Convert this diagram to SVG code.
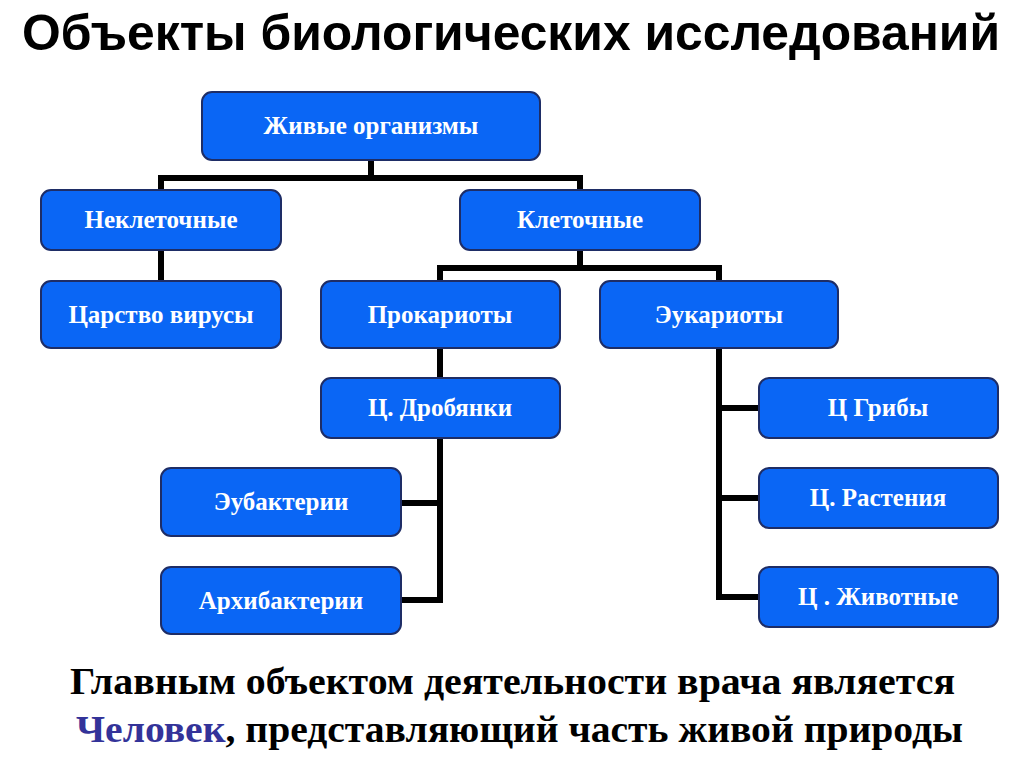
<svg xmlns="http://www.w3.org/2000/svg" width="1024" height="767" viewBox="0 0 1024 767">
<style>
.box{fill:#0A66F5;stroke:#1E2D66;stroke-width:2}
.lbl{font-family:"Liberation Serif","Times New Roman",serif;font-weight:bold;font-size:25px;fill:#ffffff;text-anchor:middle}
.con{fill:none;stroke:#000000;stroke-width:6;stroke-linejoin:miter;stroke-linecap:butt}
.title{font-family:"Liberation Sans",Arial,sans-serif;font-weight:bold;font-size:50px;fill:#000000}
.foot{font-family:"Liberation Serif","Times New Roman",serif;font-weight:bold;font-size:38px;fill:#000000}
</style>
<rect width="1024" height="767" fill="#ffffff"/>
<text class="title" x="22" y="50" textLength="978" lengthAdjust="spacingAndGlyphs">Объекты биологических исследований</text>
<g id="connectors">
<path class="con" d="M371,160 V178"/>
<path class="con" d="M161,190 V178 H580 V190"/>
<path class="con" d="M161,250 V281"/>
<path class="con" d="M580,250 V268"/>
<path class="con" d="M440,281 V268 H719 V281"/>
<path class="con" d="M440,348 V378"/>
<path class="con" d="M440,438 V600 H401"/>
<path class="con" d="M440,503 H401"/>
<path class="con" d="M719,348 V597 H759"/>
<path class="con" d="M719,408 H759"/>
<path class="con" d="M719,498 H759"/>
</g>
<g id="n_live"><rect class="box" x="202" y="92" width="338" height="68" rx="10"/><text class="lbl" x="371" y="134">Живые организмы</text></g>
<g id="n_noncell"><rect class="box" x="41" y="190" width="240" height="60" rx="10"/><text class="lbl" x="161" y="228">Неклеточные</text></g>
<g id="n_cell"><rect class="box" x="460" y="190" width="240" height="60" rx="10"/><text class="lbl" x="580" y="228">Клеточные</text></g>
<g id="n_virus"><rect class="box" x="41" y="281" width="240" height="67" rx="10"/><text class="lbl" x="161" y="323">Царство вирусы</text></g>
<g id="n_prok"><rect class="box" x="321" y="281" width="239" height="67" rx="10"/><text class="lbl" x="440" y="323">Прокариоты</text></g>
<g id="n_euk"><rect class="box" x="600" y="281" width="238" height="67" rx="10"/><text class="lbl" x="719" y="323">Эукариоты</text></g>
<g id="n_drob"><rect class="box" x="321" y="378" width="239" height="60" rx="10"/><text class="lbl" x="440" y="416">Ц. Дробянки</text></g>
<g id="n_eubac"><rect class="box" x="161" y="468" width="240" height="68" rx="10"/><text class="lbl" x="281" y="510">Эубактерии</text></g>
<g id="n_archi"><rect class="box" x="161" y="567" width="240" height="67" rx="10"/><text class="lbl" x="281" y="609">Архибактерии</text></g>
<g id="n_fungi"><rect class="box" x="759" y="378" width="239" height="60" rx="10"/><text class="lbl" x="878" y="416">Ц Грибы</text></g>
<g id="n_plant"><rect class="box" x="759" y="468" width="239" height="60" rx="10"/><text class="lbl" x="878" y="506">Ц. Растения</text></g>
<g id="n_animal"><rect class="box" x="759" y="567" width="239" height="60" rx="10"/><text class="lbl" x="878" y="605">Ц . Животные</text></g>
<text class="foot" x="70" y="694" textLength="885" lengthAdjust="spacingAndGlyphs">Главным объектом деятельности врача является</text>
<text class="foot" x="76" y="742" textLength="887" lengthAdjust="spacingAndGlyphs"><tspan fill="#333399">Человек</tspan>, представляющий часть живой природы</text>
</svg>
